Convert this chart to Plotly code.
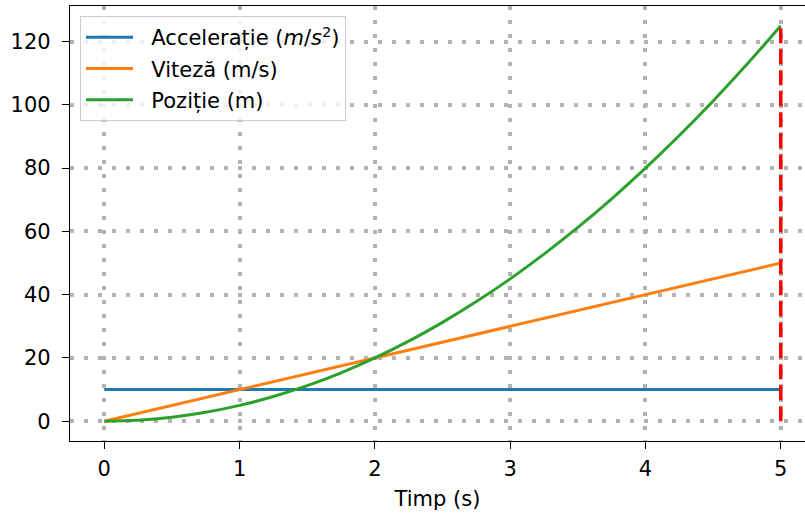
import plotly.graph_objects as go

# Time samples (s)
timp = [0, 0.25, 0.5, 0.75, 1, 1.25, 1.5, 1.75, 2, 2.25, 2.5, 2.75,
        3, 3.25, 3.5, 3.75, 4, 4.25, 4.5, 4.75, 5]

# Constant acceleration (m/s^2)
acceleratie = [10] * len(timp)

# Velocity (m/s)
viteza = [0, 2.5, 5, 7.5, 10, 12.5, 15, 17.5, 20, 22.5, 25, 27.5,
          30, 32.5, 35, 37.5, 40, 42.5, 45, 47.5, 50]

# Position (m)
pozitie = [0, 0.31, 1.25, 2.81, 5, 7.81, 11.25, 15.31, 20, 25.31, 31.25,
           37.81, 45, 52.81, 61.25, 70.31, 80, 90.31, 101.25, 112.81, 125]

# Final-time marker
t_final = 5
pozitie_finala = 125

x_ticks = [0, 1, 2, 3, 4, 5]
y_ticks = [0, 20, 40, 60, 80, 100, 120]

FONT = "DejaVu Sans"
FS = 21
PAD = "\u00a0\u00a0"  # gap between legend handle and label

fig = go.Figure()

fig.add_trace(go.Scatter(
    x=timp, y=acceleratie, mode="lines",
    name=PAD + "Accelerație (<i>m</i>/<i>s</i><sup>2</sup>)",
    line=dict(color="#1f77b4", width=3), legendgroup="a"))
fig.add_trace(go.Scatter(
    x=timp, y=viteza, mode="lines", name=PAD + "Viteză (m/s)",
    line=dict(color="#ff7f0e", width=3), legendgroup="v"))
fig.add_trace(go.Scatter(
    x=timp, y=pozitie, mode="lines", name=PAD + "Poziție (m)",
    line=dict(color="#2ca02c", width=3, shape="spline"), legendgroup="p"))
fig.add_trace(go.Scatter(
    x=[t_final, t_final], y=[0, pozitie_finala], mode="lines",
    line=dict(color="#ff0000", width=3.5, dash="15px,6px"),
    showlegend=False, hoverinfo="skip"))

fig.update_layout(
    width=805, height=517,
    margin=dict(l=70, r=0, t=6, b=76),
    plot_bgcolor="white", paper_bgcolor="white",
    font=dict(family=FONT, size=FS, color="black"),
    showlegend=True,
    legend=dict(
        x=0.0136, y=0.977, xanchor="left", yanchor="top",
        bgcolor="rgba(255,255,255,0.8)", bordercolor="#cccccc", borderwidth=1,
        font=dict(family=FONT, size=FS, color="black"),
        itemwidth=47, tracegroupgap=1,
    ),
)

fig.update_xaxes(
    range=[-0.2535, 5.179],
    tickvals=x_ticks, ticks="outside", ticklen=7, tickwidth=1.25,
    tickcolor="black", showline=True, linecolor="black", linewidth=1.25,
    mirror=True, zeroline=False,
    showgrid=True, gridcolor="#b3b3b3", gridwidth=4, griddash="4px,10px",
    tickfont=dict(size=FS), ticklabelstandoff=2,
    title=dict(text="Timp (s)", standoff=10, font=dict(size=FS)),
)
fig.update_yaxes(
    range=[-6.25, 131.25],
    tickvals=y_ticks, ticks="outside", ticklen=7, tickwidth=1.25,
    tickcolor="black", showline=True, linecolor="black", linewidth=1.25,
    zeroline=False, tickfont=dict(size=FS),
    showgrid=True, gridcolor="#b3b3b3", gridwidth=4, griddash="4px,10px",
    ticklabelstandoff=7,
)

fig.write_html("out.html")
